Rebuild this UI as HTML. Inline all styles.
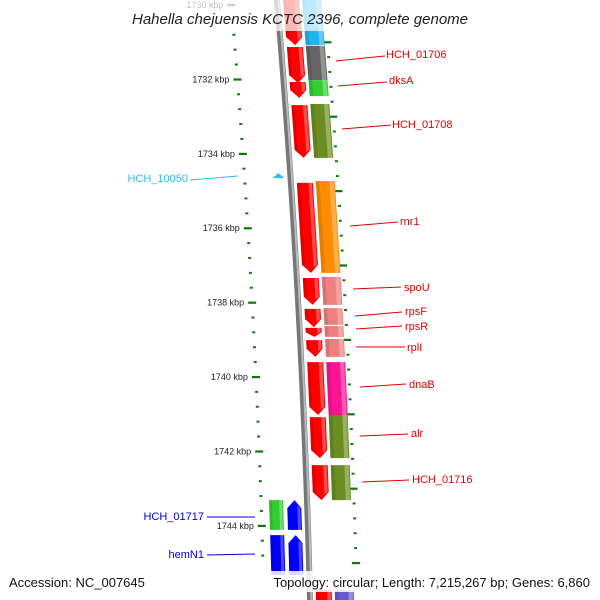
<!DOCTYPE html>
<html><head><meta charset="utf-8"><style>
html,body{margin:0;padding:0;background:#fff;}
svg{display:block;font-family:"Liberation Sans",sans-serif;}
</style></head><body>
<svg id="chart" width="600" height="600" viewBox="0 0 600 600" xmlns="http://www.w3.org/2000/svg">
<defs>
<linearGradient id="bb" x1="0" x2="1" y1="0" y2="0">
<stop offset="0" stop-color="#999"/><stop offset="0.4" stop-color="#555"/><stop offset="1" stop-color="#aaa"/>
</linearGradient>
</defs>
<g id="ticks"></g>
<g id="genes"></g>
<g id="labels" font-size="11">
<g fill="#e00000" stroke="none">
<text x="386" y="58">HCH_01706</text>
<text x="389" y="84">dksA</text>
<text x="392" y="128">HCH_01708</text>
<text x="400" y="225">rnr1</text>
<text x="404" y="291">spoU</text>
<text x="405" y="315">rpsF</text>
<text x="405" y="330">rpsR</text>
<text x="407" y="351">rplI</text>
<text x="409" y="388">dnaB</text>
<text x="411" y="437">alr</text>
<text x="412" y="483">HCH_01716</text>
</g>
<g stroke="#e00000" stroke-width="1">
<line x1="336" y1="61" x2="385" y2="56"/><line x1="338" y1="86" x2="387" y2="82"/>
<line x1="342" y1="129" x2="391" y2="125"/><line x1="350" y1="226" x2="398" y2="222"/>
<line x1="353" y1="289" x2="401" y2="287"/><line x1="355" y1="316" x2="402" y2="312"/>
<line x1="356" y1="329" x2="402" y2="326"/><line x1="356" y1="347" x2="405" y2="347"/>
<line x1="360" y1="387" x2="406" y2="384"/><line x1="360" y1="436" x2="408" y2="434"/>
<line x1="362" y1="482" x2="409" y2="480"/>
</g>
<text x="188" y="182" fill="#33bbee" text-anchor="end">HCH_10050</text>
<line x1="190" y1="180" x2="238" y2="176" stroke="#33bbee"/>
<text x="204" y="520" fill="#0000dd" text-anchor="end">HCH_01717</text>
<line x1="207" y1="517" x2="255" y2="517" stroke="#0000dd"/>
<text x="204" y="558" fill="#0000dd" text-anchor="end">hemN1</text>
<line x1="207" y1="555" x2="255" y2="554" stroke="#0000dd"/>
</g>
<rect x="0" y="0" width="600" height="31" fill="#fff" opacity="0.72"/>
<text x="300" y="24" font-size="15" font-style="italic" text-anchor="middle" fill="#222">Hahella chejuensis KCTC 2396, complete genome</text>
<rect x="0" y="571" width="600" height="21" fill="#fff" opacity="0.85"/>
<text x="9" y="587" font-size="13" fill="#111">Accession: NC_007645</text>
<text x="590" y="587" font-size="13" fill="#111" text-anchor="end">Topology: circular; Length: 7,215,267 bp; Genes: 6,860</text>
</svg>
<script>
// data (positions in kbp)
const majorTicks = [1730,1732,1734,1736,1738,1740,1742,1744];
const tickLabels = ["1730 kbp","1732 kbp","1734 kbp","1736 kbp","1738 kbp","1740 kbp","1742 kbp","1744 kbp"];
const revStart = [1729.60,1731.13,1732.07,1732.69,1734.78,1737.34,1738.17,1738.68,1739.01,1739.60,1741.08,1742.37,1745.73];
const revEnd   = [1731.08,1732.10,1732.50,1734.11,1737.20,1738.06,1738.66,1738.92,1739.46,1741.02,1742.18,1743.31,1746.53];
const fwdStart = [1729.60,1731.10,1732.02,1732.66,1734.73,1737.31,1738.15,1738.63,1738.98,1739.60,1741.02,1742.37,1745.73];
const fwdEnd   = [1731.08,1732.02,1732.45,1734.11,1737.20,1738.06,1738.60,1738.92,1739.46,1741.02,1742.18,1743.31,1746.53];
const fwdColor = ["#1eb4f0","#666666","#33cc33","#6b8e23","#ff8c00","#f08080","#f08080","#f08080","#f08080","#ff1493","#6b8e23","#6b8e23","#6a5acd"];
const leftStart = [1743.31,1744.25];
const leftEnd   = [1744.11,1745.32];
const leftColor = ["#33cc33","#0000ff"];
const leftArrowStart = [1743.31,1744.25];
const leftArrowEnd   = [1744.11,1745.32];
const markerPos = [1734.60];

const NS="http://www.w3.org/2000/svg";
const yS = k => 5 + (k-1730)*37.2;
const cx = y => 277 + 0.085*y - 5e-5*y*y;
function mk(tag,attrs,parent){const e=document.createElementNS(NS,tag);for(const k in attrs)e.setAttribute(k,attrs[k]);parent.appendChild(e);return e;}
const G=document.getElementById('genes'), T=document.getElementById('ticks');

// backbone
let pts=[];for(let y=-5;y<=605;y+=10)pts.push((cx(y)-3)+","+y);
for(let y=605;y>=-5;y-=10)pts.push((cx(y)+3)+","+y);
const bb=mk('polygon',{points:pts.join(' '),fill:'#777'},G);


let pts2=[];for(let y=-5;y<=605;y+=10)pts2.push((cx(y)+0.5)+","+y);
for(let y=605;y>=-5;y-=10)pts2.push((cx(y)+2.5)+","+y);
mk('polygon',{points:pts2.join(' '),fill:'#bbb'},G);

// ticks
for(let i=0;i<majorTicks.length;i++){
  const y=yS(majorTicks[i]);
  const x=cx(y)-46;
  const t=mk('rect',{x:x-4,y:y-1,width:8,height:2.2,fill:'#0a7a0a'},T);
  
  
  const lb=mk('text',{x:x-8,y:y+3,'font-size':9,'text-anchor':'end',fill:'#222'},T);
  lb.textContent=tickLabels[i];
  
  
  for(let j=1;j<5;j++){const yy=yS(majorTicks[i]+0.4*j);if(yy>570)continue;
    const d=mk('rect',{x:cx(yy)-47.5,y:yy-1,width:3,height:2,fill:'#0a7a0a'},T);
    
    }
  for(let j=-2;j<3;j++){const yy=yS(majorTicks[i]+1+0.4*j);if(yy>570||yy<30)continue;
    const big=(j===0);
    const d=mk('rect',{x:cx(yy)+47-(big?4:1.5),y:yy-1,width:big?8:3,height:big?2.2:2,fill:'#0a7a0a'},T);
    
    }
}
function X(y,o){return cx(y)+o;}
function gene(y1,y2,a,b,color,dir,name){
  const h=Math.min(8,(y2-y1)*0.5), m=(a+b)/2+0.5; let p;
  if(dir<0) p=[[a,y1],[b,y1],[b,y2-h],[m,y2],[a,y2-h]];
  else if(dir>0) p=[[m,y1],[b,y1+h],[b,y2],[a,y2],[a,y1+h]];
  else p=[[a,y1],[b,y1],[b,y2],[a,y2]];
  const g=mk('g',{},G);
  
  
  mk('polygon',{points:p.map(q=>X(q[1],q[0])+","+q[1]).join(' '),fill:color},g);
  const w=b-a;
  mk('polygon',{points:[[b-w*0.28,y1+(dir>0?h*0.7:0)],[b-1,y1+(dir>0?h:0)],[b-1,y2-(dir<0?h:0)],[b-w*0.28,y2-(dir<0?h*0.7:0)]].map(q=>X(q[1],q[0])+","+q[1]).join(' '),fill:'#fff',opacity:0.3},g);
  mk('polygon',{points:[[a,y1+(dir>0?h:0)],[a+w*0.2,y1+(dir>0?h*0.7:0)],[a+w*0.2,y2-(dir<0?h*0.7:0)],[a,y2-(dir<0?h:0)]].map(q=>X(q[1],q[0])+","+q[1]).join(' '),fill:'#000',opacity:0.1},g);
}
for(let i=0;i<revStart.length;i++) gene(yS(revStart[i]),yS(revEnd[i]),6,22,'#ff0000',-1,'reverse-gene');
for(let i=0;i<fwdStart.length;i++) gene(yS(fwdStart[i]),yS(fwdEnd[i]),25,44,fwdColor[i],0,'forward-gene');
for(let i=0;i<leftStart.length;i++) gene(yS(leftStart[i]),yS(leftEnd[i]),-38,-24,leftColor[i],0,'left-gene');
for(let i=0;i<leftArrowStart.length;i++) gene(yS(leftArrowStart[i]),yS(leftArrowEnd[i]),-20,-6,'#0000ff',1,'left-arrow-gene');
for(let i=0;i<markerPos.length;i++){const y=yS(markerPos[i]);const x=cx(y)-12;
  const m=mk('polygon',{points:(x-6)+","+(y+2)+" "+x+","+(y-3)+" "+(x+6)+","+(y+2),fill:'#33bbee'},G);
  
  }
</script>
</body></html>
